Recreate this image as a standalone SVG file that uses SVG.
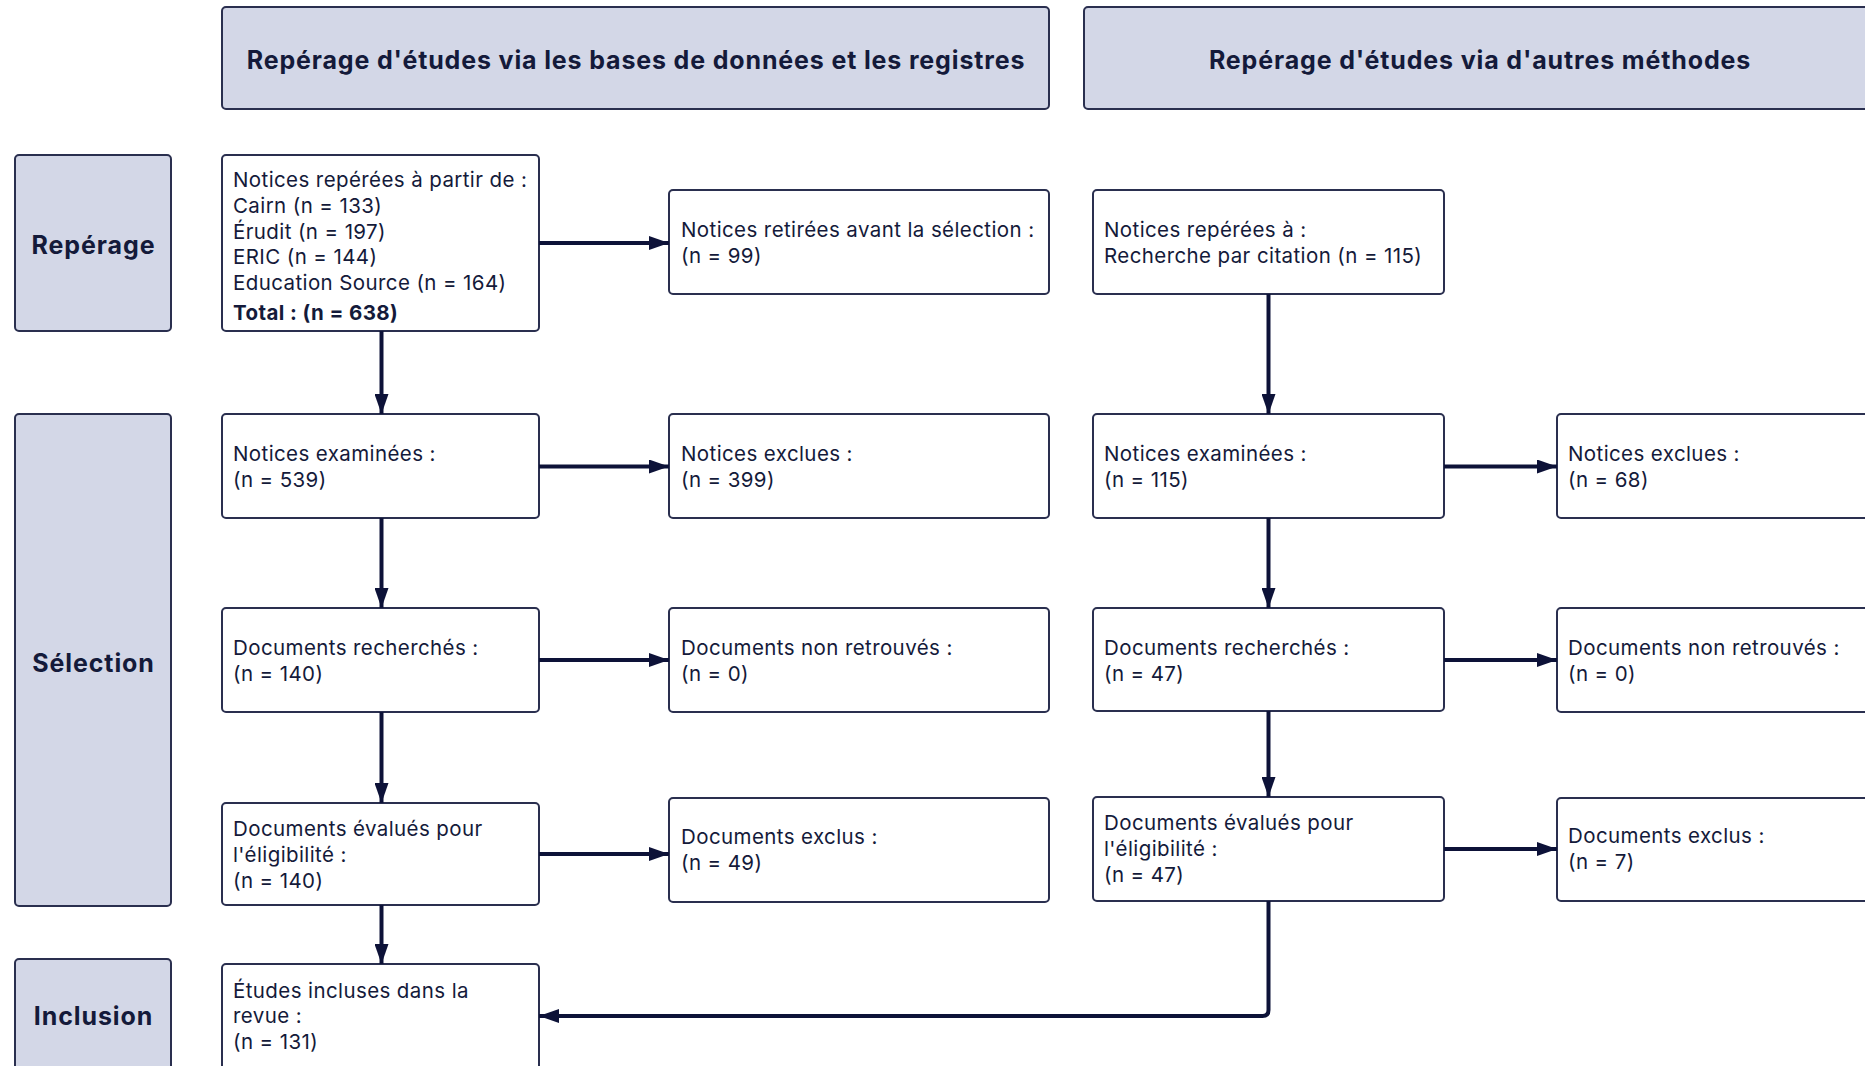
<svg xmlns="http://www.w3.org/2000/svg" width="1865" height="1066" viewBox="0 0 1865 1066">
<style>
.hdr{fill:#d3d7e7;stroke:#2a2f4f;stroke-width:2}
.box{fill:#ffffff;stroke:#2a2f4f;stroke-width:2}
.ht{font-family:Inter,"Liberation Sans",sans-serif;font-weight:700;font-size:25px;letter-spacing:0.85px;fill:#141a3a}
.pt{font-family:Inter,"Liberation Sans",sans-serif;font-weight:700;font-size:25px;letter-spacing:0.9px;fill:#141a3a;text-anchor:middle}
.t{font-family:Inter,"Liberation Sans",sans-serif;font-size:20.5px;letter-spacing:0.4px;fill:#141a3a}
.b{font-weight:700}
.c{fill:none;stroke:#0d1238;stroke-width:4}
</style>
<defs>
<marker id="ah" markerUnits="userSpaceOnUse" markerWidth="20" markerHeight="14" refX="20" refY="7" orient="auto">
<path d="M0,0 L20,7 L0,14 z" fill="#0d1238"/>
</marker>
</defs>
<rect width="1865" height="1066" fill="#ffffff"/>

<g id="header-databases">
<rect class="hdr" x="222" y="7" width="827" height="102" rx="4"/>
<text class="ht" x="636" y="68.5" text-anchor="middle">Repérage d'études via les bases de données et les registres</text>
</g>
<g id="header-other">
<rect class="hdr" x="1084" y="7" width="800" height="102" rx="4"/>
<text class="ht" x="1480" y="68.5" text-anchor="middle">Repérage d'études via d'autres méthodes</text>
</g>

<g id="phase-reperage">
<rect class="hdr" x="15" y="155" width="156" height="176" rx="4"/>
<text class="pt" x="93.5" y="254">Repérage</text>
</g>
<g id="phase-selection">
<rect class="hdr" x="15" y="414" width="156" height="492" rx="4"/>
<text class="pt" x="93.5" y="672">Sélection</text>
</g>
<g id="phase-inclusion">
<rect class="hdr" x="15" y="959" width="156" height="130" rx="4"/>
<text class="pt" x="93.5" y="1025">Inclusion</text>
</g>

<g id="n-db-identified">
<rect class="box" x="222" y="155" width="317" height="176" rx="4"/>
<text class="t" x="233" y="187">Notices repérées à partir de :</text>
<text class="t" x="233" y="213">Cairn (n = 133)</text>
<text class="t" x="233" y="238.5">Érudit (n = 197)</text>
<text class="t" x="233" y="264">ERIC (n = 144)</text>
<text class="t" x="233" y="290">Education Source (n = 164)</text>
<text class="t b" x="233" y="320">Total : (n = 638)</text>
</g>
<g id="n-db-removed">
<rect class="box" x="669" y="190" width="380" height="104" rx="4"/>
<text class="t" x="681" y="237">Notices retirées avant la sélection :</text>
<text class="t" x="681" y="263">(n = 99)</text>
</g>
<g id="n-db-screened">
<rect class="box" x="222" y="414" width="317" height="104" rx="4"/>
<text class="t" x="233" y="460.5">Notices examinées :</text>
<text class="t" x="233" y="486.5">(n = 539)</text>
</g>
<g id="n-db-excluded">
<rect class="box" x="669" y="414" width="380" height="104" rx="4"/>
<text class="t" x="681" y="460.5">Notices exclues :</text>
<text class="t" x="681" y="486.5">(n = 399)</text>
</g>
<g id="n-db-sought">
<rect class="box" x="222" y="608" width="317" height="104" rx="4"/>
<text class="t" x="233" y="654.5">Documents recherchés :</text>
<text class="t" x="233" y="680.5">(n = 140)</text>
</g>
<g id="n-db-notretrieved">
<rect class="box" x="669" y="608" width="380" height="104" rx="4"/>
<text class="t" x="681" y="654.5">Documents non retrouvés :</text>
<text class="t" x="681" y="680.5">(n = 0)</text>
</g>
<g id="n-db-assessed">
<rect class="box" x="222" y="803" width="317" height="102" rx="4"/>
<text class="t" x="233" y="836">Documents évalués pour</text>
<text class="t" x="233" y="862">l'éligibilité :</text>
<text class="t" x="233" y="888">(n = 140)</text>
</g>
<g id="n-db-docexcluded">
<rect class="box" x="669" y="798" width="380" height="104" rx="4"/>
<text class="t" x="681" y="843.5">Documents exclus :</text>
<text class="t" x="681" y="869.5">(n = 49)</text>
</g>
<g id="n-included">
<rect class="box" x="222" y="964" width="317" height="130" rx="4"/>
<text class="t" x="233" y="997.5">Études incluses dans la</text>
<text class="t" x="233" y="1023">revue :</text>
<text class="t" x="233" y="1049">(n = 131)</text>
</g>

<g id="n-oth-identified">
<rect class="box" x="1093" y="190" width="351" height="104" rx="4"/>
<text class="t" x="1104" y="237">Notices repérées à :</text>
<text class="t" x="1104" y="263">Recherche par citation (n = 115)</text>
</g>
<g id="n-oth-screened">
<rect class="box" x="1093" y="414" width="351" height="104" rx="4"/>
<text class="t" x="1104" y="460.5">Notices examinées :</text>
<text class="t" x="1104" y="486.5">(n = 115)</text>
</g>
<g id="n-oth-excluded">
<rect class="box" x="1557" y="414" width="380" height="104" rx="4"/>
<text class="t" x="1568" y="460.5">Notices exclues :</text>
<text class="t" x="1568" y="486.5">(n = 68)</text>
</g>
<g id="n-oth-sought">
<rect class="box" x="1093" y="608" width="351" height="103" rx="4"/>
<text class="t" x="1104" y="654.5">Documents recherchés :</text>
<text class="t" x="1104" y="680.5">(n = 47)</text>
</g>
<g id="n-oth-notretrieved">
<rect class="box" x="1557" y="608" width="380" height="104" rx="4"/>
<text class="t" x="1568" y="654.5">Documents non retrouvés :</text>
<text class="t" x="1568" y="680.5">(n = 0)</text>
</g>
<g id="n-oth-assessed">
<rect class="box" x="1093" y="797" width="351" height="104" rx="4"/>
<text class="t" x="1104" y="830">Documents évalués pour</text>
<text class="t" x="1104" y="856">l'éligibilité :</text>
<text class="t" x="1104" y="882">(n = 47)</text>
</g>
<g id="n-oth-docexcluded">
<rect class="box" x="1557" y="798" width="380" height="103" rx="4"/>
<text class="t" x="1568" y="843">Documents exclus :</text>
<text class="t" x="1568" y="869">(n = 7)</text>
</g>

<g id="connectors">
<line class="c" x1="539" y1="243" x2="669" y2="243" marker-end="url(#ah)"/>
<line class="c" x1="381.5" y1="331" x2="381.5" y2="414" marker-end="url(#ah)"/>
<line class="c" x1="539" y1="466.5" x2="669" y2="466.5" marker-end="url(#ah)"/>
<line class="c" x1="381.5" y1="518" x2="381.5" y2="608" marker-end="url(#ah)"/>
<line class="c" x1="539" y1="660" x2="669" y2="660" marker-end="url(#ah)"/>
<line class="c" x1="381.5" y1="712" x2="381.5" y2="803" marker-end="url(#ah)"/>
<line class="c" x1="539" y1="854" x2="669" y2="854" marker-end="url(#ah)"/>
<line class="c" x1="381.5" y1="905" x2="381.5" y2="964" marker-end="url(#ah)"/>
<line class="c" x1="1268.5" y1="294" x2="1268.5" y2="414" marker-end="url(#ah)"/>
<line class="c" x1="1444" y1="466.5" x2="1557" y2="466.5" marker-end="url(#ah)"/>
<line class="c" x1="1268.5" y1="518" x2="1268.5" y2="608" marker-end="url(#ah)"/>
<line class="c" x1="1444" y1="660" x2="1557" y2="660" marker-end="url(#ah)"/>
<line class="c" x1="1268.5" y1="711" x2="1268.5" y2="797" marker-end="url(#ah)"/>
<line class="c" x1="1444" y1="849" x2="1557" y2="849" marker-end="url(#ah)"/>
<path class="c" d="M1268.5,901 L1268.5,1010 Q1268.5,1016 1262.5,1016 L539,1016" marker-end="url(#ah)"/>
</g>
</svg>
